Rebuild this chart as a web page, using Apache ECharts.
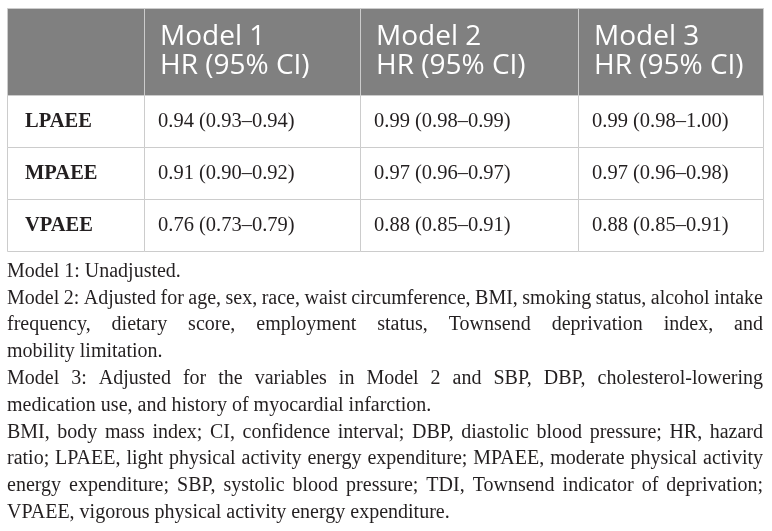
<!DOCTYPE html>
<html><head><meta charset="utf-8">
<script src="https://cdn.jsdelivr.net/npm/echarts@6/dist/echarts.min.js"></script>
<style>html,body{margin:0;padding:0;background:#fff}#c{width:772px;height:531px}</style>
</head><body><div id="c"></div>
<script>
// ---- data ----
const measures = ['LPAEE', 'MPAEE', 'VPAEE'];
const models = ['Model 1', 'Model 2', 'Model 3'];
const headerSub = 'HR (95% CI)';
const m1Hr = [0.94, 0.91, 0.76], m1Lo = [0.93, 0.90, 0.73], m1Hi = [0.94, 0.92, 0.79];
const m2Hr = [0.99, 0.97, 0.88], m2Lo = [0.98, 0.96, 0.85], m2Hi = [0.99, 0.97, 0.91];
const m3Hr = [0.99, 0.97, 0.88], m3Lo = [0.98, 0.96, 0.85], m3Hi = [1.00, 0.98, 0.91];
const footnoteLines = [
  'Model 1: Unadjusted.',
  'Model 2: Adjusted for age, sex, race, waist circumference, BMI, smoking status, alcohol intake',
  'frequency, dietary score, employment status, Townsend deprivation index, and',
  'mobility limitation.',
  'Model 3: Adjusted for the variables in Model 2 and SBP, DBP, cholesterol-lowering',
  'medication use, and history of myocardial infarction.',
  'BMI, body mass index; CI, confidence interval; DBP, diastolic blood pressure; HR, hazard',
  'ratio; LPAEE, light physical activity energy expenditure; MPAEE, moderate physical activity',
  'energy expenditure; SBP, systolic blood pressure; TDI, Townsend indicator of deprivation;',
  'VPAEE, vigorous physical activity energy expenditure.'
];
const footnoteJustify = [false, true, true, false, true, false, true, true, true, false];

// ---- layout / style ----
const colEdges = [0, 137, 353, 571, 756];
const rowEdges = [0, 87, 139, 191, 243];
const TABLE_LEFT = 7, TABLE_TOP = 8, TABLE_W = 756, TABLE_H = 243;
const headerFont = '28px "Open Sans"';
const bodyFont = '20.5px "Liberation Serif"';
const labelFont = 'bold 20.5px "Liberation Serif"';
const noteFont = '20px "Liberation Serif"';
const textColor = '#231f20';
const NOTE_Y0 = 271.5, NOTE_STEP = 26.8;

const fmt = v => v.toFixed(2);
const modelData = [[m1Hr, m1Lo, m1Hi], [m2Hr, m2Lo, m2Hi], [m3Hr, m3Lo, m3Hi]];

const cells = [];
for (let r = 0; r < 4; r++) {
  for (let c = 0; c < 4; c++) {
    let text = '', kind;
    if (r === 0) {
      kind = 'header';
      text = c === 0 ? '' : models[c - 1] + '\n' + headerSub;
    } else if (c === 0) {
      kind = 'label';
      text = measures[r - 1];
    } else {
      kind = 'value';
      const [hr, lo, hi] = modelData[c - 1];
      text = fmt(hr[r - 1]) + ' (' + fmt(lo[r - 1]) + '\u2013' + fmt(hi[r - 1]) + ')';
    }
    cells.push({ value: [c, r], text, kind });
  }
}

function renderItem(params, api) {
  const c = api.value(0), r = api.value(1);
  const p0 = api.coord([colEdges[c], rowEdges[r]]);
  const p1 = api.coord([colEdges[c + 1], rowEdges[r + 1]]);
  const x0 = Math.round(Math.min(p0[0], p1[0])), x1 = Math.round(Math.max(p0[0], p1[0]));
  const y0 = Math.round(Math.min(p0[1], p1[1])), y1 = Math.round(Math.max(p0[1], p1[1]));
  const cell = cells[params.dataIndex];
  const isHeader = cell.kind === 'header';
  const pad = isHeader ? 16 : (cell.kind === 'label' ? 18 : 14);
  return {
    type: 'group',
    children: [
      { type: 'rect', shape: { x: x0 + 0.5, y: y0 + 0.5, width: x1 - x0, height: y1 - y0 },
        style: { fill: isHeader ? '#808080' : '#ffffff', stroke: '#cccccc', lineWidth: 1 } },
      { type: 'text', x: x0 + pad, y: (y0 + y1) / 2 + (isHeader ? 0 : 1),
        style: { text: cell.text, font: isHeader ? headerFont : (cell.kind === 'label' ? labelFont : bodyFont),
          fill: isHeader ? '#ffffff' : textColor, align: 'left', verticalAlign: 'middle',
          lineHeight: isHeader ? 29 : 24 } }
    ]
  };
}

// ---- footnotes (justified text) ----
const mctx = document.createElement('canvas').getContext('2d');
mctx.font = noteFont;
const noteElems = [];
footnoteLines.forEach((line, i) => {
  const y = NOTE_Y0 + NOTE_STEP * i;
  if (!footnoteJustify[i]) {
    noteElems.push({ type: 'text', x: TABLE_LEFT, y,
      style: { text: line, font: noteFont, fill: textColor, align: 'left', verticalAlign: 'middle' } });
    return;
  }
  const words = line.split(' ');
  const widths = words.map(w => mctx.measureText(w).width);
  const W = widths.reduce((a, b) => a + b, 0);
  const g = words.length - 1;
  const sp = mctx.measureText(' ').width;
  const need = W + g * sp * 0.7;
  const s = Math.min(1, TABLE_W / need);
  const gap = (TABLE_W - W * s) / g;
  let x = TABLE_LEFT;
  words.forEach((w, j) => {
    noteElems.push({ type: 'text', x, y, scaleX: s,
      style: { text: w, font: noteFont, fill: textColor, align: 'left', verticalAlign: 'middle' } });
    x += widths[j] * s + gap;
  });
});

const chart = echarts.init(document.getElementById('c'), null, { renderer: 'canvas' });
chart.setOption({
  animation: false,
  backgroundColor: '#ffffff',
  grid: { left: TABLE_LEFT, top: TABLE_TOP, width: TABLE_W, height: TABLE_H, containLabel: false },
  xAxis: { type: 'value', min: 0, max: TABLE_W, show: false },
  yAxis: { type: 'value', min: 0, max: TABLE_H, inverse: true, show: false },
  tooltip: { show: false },
  series: [{ type: 'custom', renderItem, clip: false, data: cells.map(c => c.value) }],
  graphic: { elements: noteElems }
});
</script></body></html>
